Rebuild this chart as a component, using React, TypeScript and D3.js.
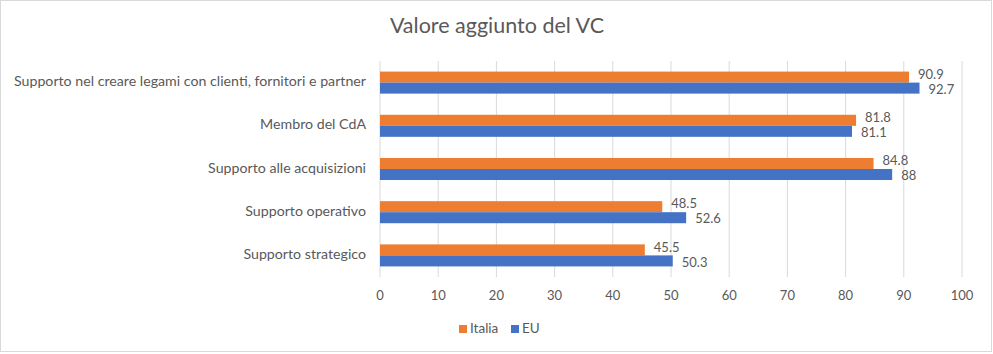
import React from 'react';
import * as d3 from 'd3';

const categories = [
  'Supporto nel creare legami con clienti, fornitori e partner',
  'Membro del CdA',
  'Supporto alle acquisizioni',
  'Supporto operativo',
  'Supporto strategico',
];
const seriesNames = ['Italia', 'EU'];
const italia = [90.9, 81.8, 84.8, 48.5, 45.5];
const eu = [92.7, 81.1, 88, 52.6, 50.3];
const seriesValues = [italia, eu];
const colors = ['#ED7D31', '#4472C4'];
const xTicks = [0, 10, 20, 30, 40, 50, 60, 70, 80, 90, 100];

const W = 993;
const H = 354;
const FONT = 'Lato, "Open Sans", sans-serif';
const TEXT = '#595959';

const App: React.FC = () => {
  const x = d3.scaleLinear().domain([0, 100]).range([380, 962]);
  const y = d3.scaleBand<string>()
    .domain(categories)
    .range([61, 277])
    .paddingInner(0.49)
    .paddingOuter(0.245);
  const ySub = d3.scaleBand<string>()
    .domain(seriesNames)
    .range([0, y.bandwidth()]);

  // small nudge so the two value labels of a group sit apart a little
  const labelShift = [-1.5, 2.5];

  return (
    <svg width={W} height={H} style={{ display: 'block', position: 'absolute', left: 0, top: 0 }} fontFamily={FONT}>
      <rect x={0.5} y={0.5} width={W - 2} height={H - 3} fill="#fff" stroke="#d9d9d9" />
      <text x={497} y={28} textAnchor="middle" dominantBaseline="middle" fontSize={21.5} fill={TEXT}>
        Valore aggiunto del VC
      </text>

      {/* gridlines */}
      {xTicks.map(t => (
        <line key={t} x1={x(t)} x2={x(t)} y1={61} y2={277} stroke="#d9d9d9" strokeWidth={1} />
      ))}

      {/* bars */}
      {categories.map((c, i) => (
        <g key={c} transform={`translate(0,${y(c)})`}>
          {seriesNames.map((s, j) => (
            <g key={s}>
              <rect
                x={x(0)}
                y={ySub(s)}
                width={x(seriesValues[j][i]) - x(0)}
                height={ySub.bandwidth()}
                fill={colors[j]}
              />
              <text
                x={x(seriesValues[j][i]) + 9}
                y={(ySub(s) as number) + ySub.bandwidth() / 2 + labelShift[j]}
                dominantBaseline="middle"
                fontSize={13}
                fill={TEXT}
              >
                {seriesValues[j][i]}
              </text>
            </g>
          ))}
        </g>
      ))}

      {/* category labels */}
      {categories.map(c => (
        <text
          key={c}
          x={366}
          y={(y(c) as number) + y.bandwidth() / 2}
          textAnchor="end"
          dominantBaseline="middle"
          fontSize={14.2}
          fill={TEXT}
        >
          {c}
        </text>
      ))}

      {/* x tick labels */}
      {xTicks.map(t => (
        <text key={t} x={x(t)} y={297} textAnchor="middle" dominantBaseline="middle" fontSize={13} fill={TEXT}>
          {t}
        </text>
      ))}

      {/* legend */}
      {seriesNames.map((s, j) => {
        const lx = j === 0 ? 459 : 511;
        return (
          <g key={s}>
            <rect x={lx} y={325} width={8} height={8} fill={colors[j]} />
            <text x={lx + 11} y={329.5} dominantBaseline="middle" fontSize={13.5} fill={TEXT}>
              {s}
            </text>
          </g>
        );
      })}
    </svg>
  );
};

export default App;
